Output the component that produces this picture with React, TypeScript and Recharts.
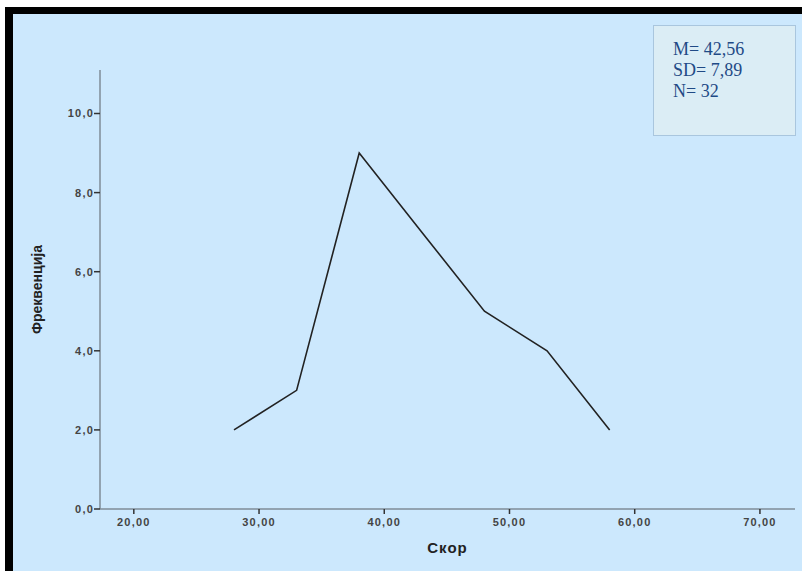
import React from 'react';
import { LineChart, Line, XAxis, YAxis } from 'recharts';

const scores = [28, 33, 38, 43, 48, 53, 58];
const frequencies = [2, 3, 9, 7, 5, 4, 2];
const xTicks = [20, 30, 40, 50, 60, 70];
const yTicks = [0, 2, 4, 6, 8, 10];
const statsLines = ['M= 42,56', 'SD= 7,89', 'N= 32'];

const data = scores.map((s, i) => ({ score: s, freq: frequencies[i] }));

const fmtX = (v: number) => v.toFixed(2).replace('.', ',');
const fmtY = (v: number) => v.toFixed(1).replace('.', ',');

const tickStyle = { fontFamily: 'Liberation Sans, Arial, sans-serif', fontSize: 11, fill: '#444', fontWeight: 'bold' as const, letterSpacing: 1.2 };

export default function App() {
  return (
    <div style={{ position: 'absolute', left: 0, top: 0, width: 802, height: 571, background: '#ffffff', overflow: 'hidden' }}>
      <div style={{ position: 'absolute', left: 5, top: 7, width: 797, height: 564, background: '#000' }} />
      <div style={{ position: 'absolute', left: 13, top: 14, width: 789, height: 557, background: '#cce8fd' }} />
      <div style={{ position: 'absolute', left: 0, top: 0 }}>
        <LineChart width={802} height={571} data={data} margin={{ top: 70, right: 7, left: 0, bottom: 0 }}>
          <XAxis
            dataKey="score"
            type="number"
            domain={[17.3, 72.8]}
            ticks={xTicks}
            tickFormatter={fmtX}
            height={62}
            stroke="#7f8c97"
            strokeWidth={1.5}
            tickSize={5}
            tickMargin={4}
            tickLine={{ stroke: '#333', strokeWidth: 1.5 }}
            tick={tickStyle}
            allowDataOverflow
            label={{ value: 'Скор', position: 'insideBottom', offset: 18, style: { fontFamily: 'Liberation Sans, Arial, sans-serif', fontSize: 15, fontWeight: 'bold', fill: '#222', letterSpacing: 1 } }}
          />
          <YAxis
            type="number"
            domain={[0, 11.1]}
            ticks={yTicks}
            tickFormatter={fmtY}
            width={100}
            stroke="#7f8c97"
            strokeWidth={1.5}
            tickSize={6}
            tickMargin={0}
            tickLine={{ stroke: '#333', strokeWidth: 1.5 }}
            tick={tickStyle}
            allowDataOverflow
            label={{ value: 'Фреквенција', angle: -90, position: 'insideLeft', offset: 37, style: { textAnchor: 'middle', fontFamily: 'Liberation Sans, Arial, sans-serif', fontSize: 14, fontWeight: 'bold', fill: '#222' } }}
          />
          <Line type="linear" dataKey="freq" stroke="#222" strokeWidth={1.6} dot={false} isAnimationActive={false} />
        </LineChart>
      </div>
      <div style={{ position: 'absolute', left: 653, top: 25, width: 143, height: 111, background: '#dbedf5', border: '1px solid #a9c6de', boxSizing: 'border-box', paddingLeft: 19, paddingTop: 13 }}>
        {statsLines.map((t) => (
          <div key={t} style={{ fontFamily: 'Liberation Serif, Times New Roman, serif', fontSize: 18, lineHeight: '21px', color: '#1f4a86' }}>{t}</div>
        ))}
      </div>
    </div>
  );
}
